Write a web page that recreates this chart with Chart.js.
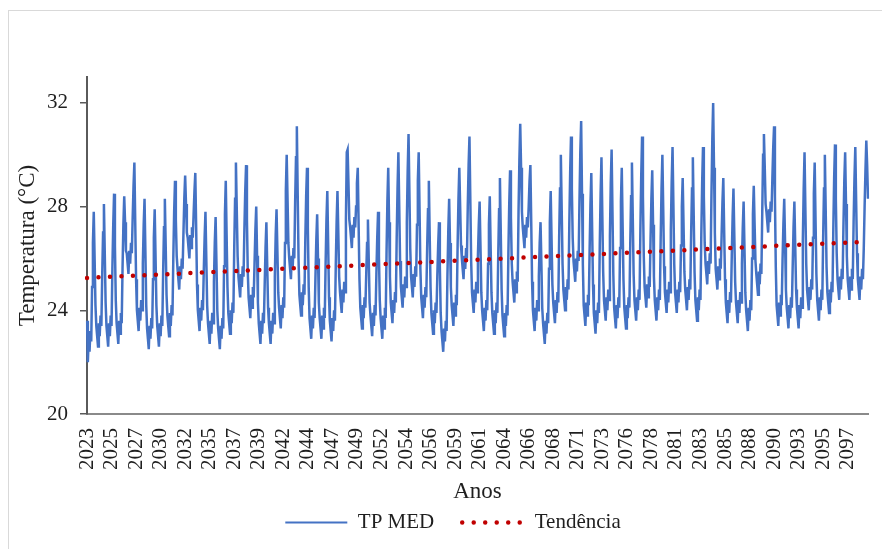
<!DOCTYPE html>
<html>
<head>
<meta charset="utf-8">
<script src="https://cdn.jsdelivr.net/npm/chart.js@4.4.1/dist/chart.umd.min.js"></script>
<style>
    html, body { margin: 0; padding: 0; background: #fff; overflow: hidden; }
    #frame { position: absolute; left: 8px; top: 10px; width: 900px; height: 600px; border: 1px solid #d9d9d9; }
    #wrap { position: absolute; left: 0; top: 0; width: 882px; height: 549px; }
</style>
</head>
<body>
<div id="frame"></div>
<div id="wrap"><canvas id="tempChart"></canvas></div>
<script>
// monthly mean temperature, one row per year (Jan..Dec)
const firstYear = 2023;
const tpMedByYear = [
    [23.6, 22.0, 22.9, 22.4, 23.2, 22.8, 24.9, 26.6, 27.8, 26.0, 24.2, 23.4],
    [23.0, 22.6, 23.5, 23.0, 23.8, 23.4, 25.4, 27.0, 28.1, 26.2, 24.3, 23.4],
    [23.0, 22.6, 23.5, 23.0, 23.8, 23.4, 25.6, 27.3, 28.5, 26.5, 24.4, 23.5],
    [23.1, 22.7, 23.6, 23.1, 23.9, 23.5, 25.6, 27.3, 28.4, 27.4, 26.3, 26.2],
    [25.8, 25.4, 26.3, 25.8, 26.6, 26.2, 27.6, 28.8, 29.7, 27.4, 25.2, 24.0],
    [23.6, 23.2, 24.1, 23.6, 24.4, 24.0, 25.8, 27.3, 28.3, 26.3, 24.2, 23.3],
    [22.9, 22.5, 23.4, 22.9, 23.7, 23.3, 25.2, 26.8, 27.9, 26.1, 24.2, 23.4],
    [23.0, 22.6, 23.5, 23.0, 23.8, 23.4, 25.5, 27.2, 28.3, 26.5, 24.6, 23.8],
    [23.4, 23.0, 23.9, 23.4, 24.2, 23.8, 26.0, 27.8, 29.0, 27.5, 26.1, 25.6],
    [25.2, 24.8, 25.7, 25.2, 26.0, 25.6, 27.0, 28.3, 29.2, 28.1, 27.0, 26.8],
    [26.4, 26.0, 26.9, 26.4, 27.2, 26.8, 27.7, 28.6, 29.3, 27.2, 25.0, 24.0],
    [23.6, 23.2, 24.1, 23.6, 24.4, 24.0, 25.5, 26.8, 27.8, 26.0, 24.2, 23.5],
    [23.1, 22.7, 23.6, 23.1, 23.9, 23.5, 25.1, 26.6, 27.6, 25.8, 24.0, 23.3],
    [22.9, 22.5, 23.4, 22.9, 23.7, 23.3, 25.7, 27.7, 29.0, 26.9, 24.9, 23.9],
    [23.5, 23.1, 24.0, 23.5, 24.3, 23.9, 26.4, 28.3, 29.7, 27.9, 26.1, 25.3],
    [24.9, 24.5, 25.4, 24.9, 25.7, 25.3, 27.1, 28.6, 29.6, 27.5, 25.5, 24.5],
    [24.1, 23.7, 24.6, 24.1, 24.9, 24.5, 25.8, 27.1, 28.0, 26.1, 24.3, 23.5],
    [23.1, 22.7, 23.6, 23.1, 23.9, 23.5, 25.0, 26.4, 27.4, 25.7, 24.1, 23.5],
    [23.1, 22.7, 23.6, 23.1, 23.9, 23.5, 25.3, 26.9, 27.9, 26.3, 24.7, 24.1],
    [23.7, 23.3, 24.2, 23.7, 24.5, 24.1, 26.6, 28.6, 30.0, 28.3, 26.6, 26.0],
    [25.6, 25.2, 26.1, 25.6, 26.4, 26.0, 28.2, 29.9, 31.1, 28.5, 26.0, 24.6],
    [24.2, 23.8, 24.7, 24.2, 25.0, 24.6, 26.7, 28.4, 29.5, 27.2, 24.9, 23.7],
    [23.3, 22.9, 23.8, 23.3, 24.1, 23.7, 25.3, 26.7, 27.7, 26.0, 24.3, 23.7],
    [23.3, 22.9, 23.8, 23.3, 24.1, 23.7, 25.8, 27.5, 28.6, 26.6, 24.5, 23.6],
    [23.2, 22.8, 23.7, 23.2, 24.0, 23.6, 25.7, 27.4, 28.6, 27.0, 25.3, 24.7],
    [24.3, 23.9, 24.8, 24.3, 25.1, 24.7, 27.5, 30.1, 30.2, 28.9, 27.5, 27.2],
    [26.8, 26.4, 27.3, 26.8, 27.6, 27.2, 28.0, 28.9, 29.5, 27.3, 25.2, 24.1],
    [23.7, 23.3, 24.2, 23.7, 24.5, 24.1, 25.4, 26.6, 27.5, 25.9, 24.3, 23.8],
    [23.4, 23.0, 23.9, 23.4, 24.2, 23.8, 25.4, 26.8, 27.8, 26.1, 24.4, 23.7],
    [23.3, 22.9, 23.8, 23.3, 24.1, 23.7, 26.2, 28.2, 29.5, 27.4, 25.3, 24.3],
    [23.9, 23.5, 24.4, 23.9, 24.7, 24.3, 26.8, 28.7, 30.1, 28.0, 25.9, 24.9],
    [24.5, 24.1, 25.0, 24.5, 25.3, 24.9, 27.4, 29.4, 30.8, 28.6, 26.4, 25.3],
    [24.9, 24.5, 25.4, 24.9, 25.7, 25.3, 27.3, 29.0, 30.1, 27.9, 25.6, 24.5],
    [24.1, 23.7, 24.6, 24.1, 24.9, 24.5, 26.4, 27.9, 29.0, 26.9, 24.9, 23.9],
    [23.5, 23.1, 24.0, 23.5, 24.3, 23.9, 25.3, 26.5, 27.4, 25.7, 23.9, 23.2],
    [22.8, 22.4, 23.3, 22.8, 23.6, 23.2, 25.4, 27.1, 28.3, 26.6, 24.9, 24.2],
    [23.8, 23.4, 24.3, 23.8, 24.6, 24.2, 26.5, 28.3, 29.5, 28.0, 26.5, 26.0],
    [25.6, 25.2, 26.1, 25.6, 26.4, 26.0, 28.0, 29.6, 30.7, 28.3, 25.9, 24.7],
    [24.3, 23.9, 24.8, 24.3, 25.1, 24.7, 26.1, 27.3, 28.2, 26.5, 24.7, 24.0],
    [23.6, 23.2, 24.1, 23.6, 24.4, 24.0, 25.8, 27.3, 28.4, 26.5, 24.7, 23.9],
    [23.5, 23.1, 24.0, 23.5, 24.3, 23.9, 26.1, 27.9, 29.1, 27.0, 24.8, 23.8],
    [23.4, 23.0, 23.9, 23.4, 24.2, 23.8, 26.2, 28.1, 29.4, 27.6, 25.8, 25.1],
    [24.7, 24.3, 25.2, 24.7, 25.5, 25.1, 27.8, 29.8, 31.2, 29.5, 27.8, 27.2],
    [26.8, 26.4, 27.3, 26.8, 27.6, 27.2, 28.0, 29.0, 29.6, 27.4, 25.1, 24.0],
    [23.6, 23.2, 24.1, 23.6, 24.4, 24.0, 25.3, 26.6, 27.4, 25.8, 24.1, 23.5],
    [23.1, 22.7, 23.6, 23.1, 23.9, 23.5, 25.6, 27.4, 28.6, 26.8, 25.0, 24.3],
    [23.9, 23.5, 24.4, 23.9, 24.7, 24.3, 26.8, 28.7, 30.0, 27.9, 25.8, 24.8],
    [24.4, 24.0, 24.9, 24.4, 25.2, 24.8, 27.3, 29.3, 30.7, 28.7, 26.8, 25.9],
    [25.5, 25.1, 26.0, 25.5, 26.3, 25.9, 28.2, 30.1, 31.3, 28.5, 25.8, 24.2],
    [23.8, 23.4, 24.3, 23.8, 24.6, 24.2, 26.3, 28.1, 29.3, 27.1, 25.0, 23.9],
    [23.5, 23.1, 24.0, 23.5, 24.3, 23.9, 26.5, 28.5, 29.9, 27.7, 25.5, 24.4],
    [24.0, 23.6, 24.5, 24.0, 24.8, 24.4, 26.9, 28.9, 30.2, 27.8, 25.4, 24.1],
    [23.7, 23.3, 24.2, 23.7, 24.5, 24.1, 26.4, 28.2, 29.5, 27.3, 25.2, 24.1],
    [23.7, 23.3, 24.2, 23.7, 24.5, 24.1, 26.5, 28.4, 29.7, 27.6, 25.4, 24.4],
    [24.0, 23.6, 24.5, 24.0, 24.8, 24.4, 27.1, 29.2, 30.7, 28.4, 26.1, 24.9],
    [24.5, 24.1, 25.0, 24.5, 25.3, 24.9, 26.7, 28.3, 29.4, 27.3, 25.3, 24.4],
    [24.0, 23.6, 24.5, 24.0, 24.8, 24.4, 26.8, 28.7, 30.0, 27.9, 25.7, 24.7],
    [24.3, 23.9, 24.8, 24.3, 25.1, 24.7, 27.1, 29.0, 30.3, 28.1, 25.8, 24.7],
    [24.3, 23.9, 24.8, 24.3, 25.1, 24.7, 26.5, 28.0, 29.1, 27.3, 25.5, 24.8],
    [24.4, 24.0, 24.9, 24.4, 25.2, 24.8, 27.0, 28.7, 29.9, 27.7, 25.5, 24.4],
    [24.0, 23.6, 24.5, 24.0, 24.8, 24.4, 26.9, 28.9, 30.3, 28.4, 26.6, 25.8],
    [25.4, 25.0, 25.9, 25.4, 26.2, 25.8, 28.5, 30.6, 32.0, 29.5, 27.0, 25.6],
    [25.2, 24.8, 25.7, 25.2, 26.0, 25.6, 26.9, 28.2, 29.1, 27.1, 25.2, 24.3],
    [23.9, 23.5, 24.4, 23.9, 24.7, 24.3, 26.1, 27.6, 28.7, 26.9, 25.1, 24.3],
    [23.9, 23.5, 24.4, 23.9, 24.7, 24.3, 25.8, 27.2, 28.2, 26.4, 24.7, 24.0],
    [23.6, 23.2, 24.1, 23.6, 24.4, 24.0, 26.0, 27.7, 28.8, 27.3, 25.9, 25.4],
    [25.0, 24.6, 25.5, 25.0, 25.8, 25.4, 27.7, 30.0, 30.8, 29.5, 28.1, 27.8],
    [27.4, 27.0, 27.9, 27.4, 28.2, 27.8, 29.1, 30.3, 31.1, 28.4, 25.7, 24.2],
    [23.8, 23.4, 24.3, 23.8, 24.6, 24.2, 25.9, 27.3, 28.3, 26.6, 24.8, 24.1],
    [23.7, 23.3, 24.2, 23.7, 24.5, 24.1, 25.7, 27.2, 28.2, 26.5, 24.8, 24.1],
    [23.7, 23.3, 24.2, 23.7, 24.5, 24.1, 26.7, 28.7, 30.1, 27.9, 25.8, 24.8],
    [24.4, 24.0, 24.9, 24.4, 25.2, 24.8, 26.8, 28.5, 29.7, 27.5, 25.4, 24.4],
    [24.0, 23.6, 24.5, 24.0, 24.8, 24.4, 26.8, 28.7, 30.0, 27.9, 25.7, 24.7],
    [24.3, 23.9, 24.8, 24.3, 25.1, 24.7, 27.1, 29.1, 30.4, 28.3, 26.2, 25.2],
    [24.8, 24.4, 25.3, 24.8, 25.6, 25.2, 27.3, 29.0, 30.1, 28.1, 26.1, 25.2],
    [24.8, 24.4, 25.3, 24.8, 25.6, 25.2, 27.4, 29.1, 30.3, 28.2, 26.2, 25.2],
    [24.8, 24.4, 25.3, 24.8, 25.6, 25.2, 26.4, 28.0, 29.4, 30.55, 29.6, 28.3]
];

// linear trend, end values
const trendStart = 25.25;
const trendEnd = 26.65;

const yTicks = [20, 24, 28, 32];
const labelEvery = 29; // one year label every 29 months, as in the source

const labels = tpMedByYear.flatMap((row, i) => row.map(() => String(firstYear + i)));
const tpMed = tpMedByYear.flat();
const trend = tpMed.map((v, i) => i === 0 ? trendStart : (i === tpMed.length - 1 ? trendEnd : null));

const serif = "'Liberation Serif', 'Times New Roman', serif";
const textColor = '#1f1f1f';

const shiftLegend = {
    id: 'shiftLegend',
    afterLayout(chart) {
        chart.legend.left += 19;
        chart.legend.right += 19;
    }
};

const ctx = document.getElementById('tempChart').getContext('2d');
new Chart(ctx, {
    type: 'line',
    data: {
        labels: labels,
        datasets: [
            {
                label: 'TP MED',
                data: tpMed,
                borderColor: '#4472C4',
                backgroundColor: '#4472C4',
                borderWidth: 2.5,
                pointRadius: 0,
                tension: 0,
                order: 1
            },
            {
                label: 'Tendência',
                data: trend,
                spanGaps: true,
                borderColor: '#C00000',
                backgroundColor: '#C00000',
                borderWidth: 4.5,
                borderDash: [0, 11.5],
                borderCapStyle: 'round',
                pointRadius: 0,
                order: 0
            }
        ]
    },
    options: {
        responsive: true,
        maintainAspectRatio: false,
        animation: false,
        layout: { padding: { top: 77, right: 14, bottom: 6, left: 0 } },
        plugins: {
            tooltip: { enabled: false },
            legend: {
                position: 'bottom',
                labels: {
                    usePointStyle: true,
                    pointStyleWidth: 62,
                    padding: 28,
                    color: textColor,
                    font: { family: serif, size: 21 },
                    generateLabels: chart => chart.data.datasets.map((ds, i) => ({
                        text: ds.label,
                        datasetIndex: i,
                        fillStyle: ds.borderColor,
                        strokeStyle: ds.borderColor,
                        lineWidth: ds.label === 'TP MED' ? 2.2 : ds.borderWidth,
                        lineDash: ds.borderDash || [],
                        lineCap: ds.borderCapStyle || 'butt',
                        pointStyle: 'line',
                        fontColor: textColor,
                        hidden: false
                    }))
                }
            }
        },
        scales: {
            x: {
                type: 'category',
                offset: false,
                grid: { display: false, drawTicks: false },
                border: { display: true, color: '#8a8a8a', width: 2 },
                ticks: {
                    autoSkip: false,
                    minRotation: 90,
                    maxRotation: 90,
                    padding: 14,
                    color: textColor,
                    font: { family: serif, size: 21 }
                },
                afterBuildTicks: scale => {
                    scale.ticks = scale.ticks.filter(t => t.value % labelEvery === 0);
                },
                afterFit: scale => {
                    scale.height = 70;
                    scale.paddingLeft = 0;
                    scale.paddingRight = 0;
                },
                title: {
                    display: true,
                    text: 'Anos',
                    color: textColor,
                    font: { family: serif, size: 23 },
                    padding: { top: 0, bottom: -22 }
                }
            },
            y: {
                min: 20,
                max: 33,
                afterBuildTicks: scale => {
                    scale.ticks = yTicks.map(v => ({ value: v }));
                },
                grid: { drawOnChartArea: false, drawTicks: true, tickLength: 7, color: '#5a5a5a', lineWidth: 1.5 },
                border: { display: true, color: '#5a5a5a', width: 2 },
                ticks: {
                    padding: 12,
                    color: textColor,
                    font: { family: serif, size: 21 }
                },
                afterFit: scale => { scale.width = 87; },
                title: {
                    display: true,
                    text: 'Temperatura (°C)',
                    color: textColor,
                    font: { family: serif, size: 23 },
                    padding: { top: 14, bottom: 0 }
                }
            }
        }
    },
    plugins: [shiftLegend]
});
</script>
</body>
</html>
